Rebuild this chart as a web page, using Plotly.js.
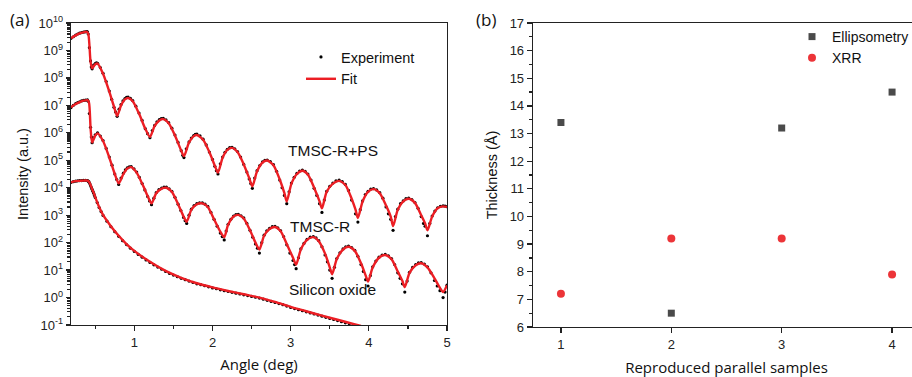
<!DOCTYPE html>
<html>
<head>
<meta charset="utf-8">
<script src="https://cdn.plot.ly/plotly-3.0.1.min.js"></script>
<style>
  html, body { margin: 0; padding: 0; background: #fff; overflow: hidden; }
  #chart { width: 925px; height: 377px; }
</style>
</head>
<body>
<div id="chart"></div>
<script>
// ---------- Panel (a): XRR curves (values stored as log10 of intensity) ----------
// Fit curves (key points)
const angTop = [0.19,0.25,0.30,0.35,0.39,0.41,0.44,0.46,0.50,0.53,0.60,0.68,0.74,0.78,0.83,0.88,0.92,0.98,1.06,1.14,1.20,1.26,1.32,1.37,1.44,1.52,1.60,1.635,1.70,1.76,1.80,1.88,1.96,2.03,2.07,2.13,2.19,2.25,2.32,2.40,2.47,2.51,2.57,2.64,2.70,2.78,2.86,2.92,2.95,3.01,3.08,3.15,3.22,3.30,3.37,3.40,3.46,3.54,3.62,3.70,3.78,3.83,3.86,3.92,3.99,4.06,4.14,4.22,4.28,4.31,4.37,4.44,4.51,4.59,4.67,4.72,4.75,4.81,4.88,4.95,5.00];
const fitTop = [9.45,9.55,9.62,9.66,9.68,9.62,8.6,8.35,8.50,8.52,8.15,7.5,6.95,6.62,7.0,7.22,7.27,7.15,6.7,6.15,5.85,6.25,6.45,6.5,6.35,5.9,5.35,5.15,5.65,5.88,5.92,5.75,5.3,4.8,4.55,5.1,5.38,5.45,5.3,4.85,4.35,4.05,4.6,4.92,4.99,4.82,4.3,3.8,3.5,4.15,4.5,4.62,4.48,4.0,3.5,3.25,3.85,4.15,4.25,4.1,3.6,3.2,2.9,3.5,3.85,3.95,3.8,3.35,2.95,2.6,3.2,3.5,3.6,3.45,3.0,2.7,2.45,2.95,3.25,3.32,3.3];

const angMid = [0.19,0.25,0.30,0.35,0.40,0.42,0.44,0.46,0.50,0.53,0.60,0.68,0.75,0.80,0.86,0.91,0.96,1.03,1.10,1.17,1.22,1.28,1.35,1.41,1.48,1.56,1.63,1.67,1.73,1.80,1.87,1.94,2.02,2.10,2.15,2.20,2.27,2.33,2.40,2.48,2.55,2.60,2.66,2.73,2.80,2.87,2.95,3.03,3.07,3.13,3.21,3.29,3.36,3.44,3.50,3.53,3.59,3.67,3.74,3.82,3.90,3.96,3.99,4.05,4.13,4.21,4.29,4.37,4.43,4.46,4.52,4.60,4.67,4.75,4.84,4.91,4.95,5.00];
const fitMid = [6.93,7.05,7.12,7.17,7.19,7.1,6.2,5.65,5.9,5.98,5.7,5.1,4.5,4.16,4.5,4.7,4.75,4.55,4.15,3.7,3.43,3.8,3.97,4.0,3.85,3.4,2.95,2.76,3.2,3.4,3.43,3.3,2.85,2.4,2.2,2.65,2.95,3.01,2.88,2.45,2.0,1.75,2.25,2.5,2.57,2.42,1.95,1.45,1.2,1.75,2.1,2.2,2.05,1.6,1.1,0.85,1.4,1.75,1.85,1.7,1.25,0.8,0.58,1.1,1.45,1.55,1.4,0.95,0.6,0.38,0.9,1.18,1.25,1.1,0.7,0.35,0.2,0.45];

const angBot = [0.19,0.25,0.30,0.35,0.40,0.42,0.44,0.46,0.48,0.50,0.55,0.60,0.70,0.80,0.90,1.00,1.20,1.40,1.60,1.80,2.00,2.20,2.40,2.60,2.80,3.00,3.20,3.40,3.60,3.80,3.90];
const fitBot = [4.2,4.24,4.25,4.26,4.26,4.22,4.1,3.95,3.82,3.66,3.3,3.01,2.6,2.25,1.95,1.7,1.3,0.97,0.72,0.52,0.37,0.24,0.12,0.0,-0.16,-0.34,-0.5,-0.66,-0.81,-0.96,-1.03];

const expAngTop = [0.19,0.22,0.25,0.275,0.30,0.325,0.35,0.37,0.39,0.40,0.41,0.425,0.44,0.45,0.46,0.48,0.50,0.515,0.53,0.565,0.60,0.64,0.68,0.71,0.74,0.76,0.78,0.805,0.83,0.855,0.88,0.90,0.92,0.95,0.98,1.02,1.06,1.10,1.14,1.17,1.20,1.23,1.26,1.29,1.32,1.345,1.37,1.405,1.44,1.48,1.52,1.56,1.60,1.62,1.635,1.665,1.70,1.73,1.76,1.78,1.80,1.84,1.88,1.92,1.96,2.00,2.03,2.05,2.07,2.10,2.13,2.16,2.19,2.22,2.25,2.285,2.32,2.36,2.40,2.44,2.47,2.49,2.51,2.54,2.57,2.605,2.64,2.67,2.70,2.74,2.78,2.82,2.86,2.89,2.92,2.95,2.98,3.01,3.045,3.08,3.115,3.15,3.185,3.22,3.26,3.30,3.335,3.37,3.40,3.43,3.46,3.50,3.54,3.58,3.62,3.66,3.70,3.74,3.78,3.83,3.86,3.89,3.92,3.955,3.99,4.025,4.06,4.10,4.14,4.18,4.22,4.25,4.28,4.31,4.34,4.37,4.405,4.44,4.475,4.51,4.55,4.59,4.63,4.67,4.70,4.72,4.75,4.78,4.81,4.845,4.88,4.915,4.95,4.975,5.00];
const expTop = [9.44,9.5,9.56,9.6,9.63,9.65,9.67,9.68,9.69,9.68,9.6,9.1,8.62,8.4,8.33,8.47,8.52,8.55,8.53,8.38,8.17,7.87,7.52,7.22,6.93,6.76,6.6,6.86,7.03,7.16,7.25,7.29,7.3,7.26,7.17,6.97,6.72,6.45,6.15,5.97,5.82,6.08,6.27,6.4,6.48,6.52,6.53,6.47,6.37,6.17,5.92,5.65,5.35,5.18,5.1,5.42,5.67,5.81,5.9,5.94,5.95,5.89,5.77,5.56,5.3,5.03,4.78,4.62,4.5,4.87,5.12,5.29,5.4,5.46,5.47,5.42,5.32,5.12,4.85,4.57,4.32,4.15,3.98,4.35,4.62,4.81,4.94,5.0,5.01,4.95,4.84,4.6,4.28,4.0,3.72,3.42,3.85,4.17,4.38,4.52,4.61,4.64,4.6,4.5,4.28,3.98,3.72,3.42,3.1,3.55,3.87,4.05,4.17,4.25,4.28,4.22,4.12,3.9,3.55,3.05,2.75,3.2,3.52,3.75,3.87,3.95,3.97,3.92,3.82,3.62,3.3,3.05,2.85,2.45,2.95,3.22,3.42,3.52,3.6,3.62,3.57,3.46,3.25,2.95,2.7,2.6,2.25,2.7,2.97,3.15,3.27,3.32,3.34,3.33,3.31];

const expAngMid = [0.19,0.22,0.25,0.275,0.30,0.325,0.35,0.375,0.40,0.41,0.425,0.44,0.45,0.46,0.48,0.50,0.53,0.565,0.60,0.64,0.68,0.715,0.75,0.775,0.80,0.83,0.86,0.885,0.91,0.935,0.96,0.995,1.03,1.065,1.10,1.135,1.17,1.195,1.22,1.25,1.28,1.315,1.35,1.38,1.41,1.445,1.48,1.52,1.56,1.595,1.63,1.65,1.67,1.70,1.73,1.765,1.80,1.835,1.87,1.905,1.94,1.98,2.02,2.06,2.10,2.125,2.15,2.175,2.20,2.235,2.27,2.30,2.33,2.365,2.40,2.44,2.48,2.515,2.55,2.575,2.60,2.63,2.66,2.695,2.73,2.765,2.80,2.835,2.87,2.91,2.95,2.99,3.03,3.05,3.07,3.10,3.13,3.17,3.21,3.25,3.29,3.325,3.36,3.40,3.44,3.47,3.50,3.53,3.56,3.59,3.63,3.67,3.705,3.74,3.78,3.82,3.86,3.90,3.93,3.96,3.99,4.02,4.05,4.09,4.13,4.17,4.21,4.25,4.29,4.33,4.37,4.40,4.43,4.46,4.49,4.52,4.56,4.60,4.635,4.67,4.71,4.75,4.795,4.84,4.875,4.91,4.95,4.975,5.00];
const expMid = [6.92,7.0,7.06,7.1,7.13,7.16,7.18,7.19,7.2,7.15,6.7,6.2,5.85,5.64,5.82,5.93,6.0,5.88,5.72,5.43,5.12,4.82,4.5,4.3,4.12,4.35,4.53,4.65,4.72,4.76,4.77,4.69,4.57,4.38,4.15,3.92,3.68,3.52,3.38,3.62,3.82,3.93,3.99,4.02,4.02,3.96,3.87,3.65,3.4,3.17,2.92,2.8,2.7,3.0,3.22,3.35,3.42,3.45,3.45,3.4,3.32,3.1,2.85,2.6,2.35,2.22,2.1,2.42,2.67,2.85,2.97,3.02,3.03,2.98,2.9,2.7,2.45,2.2,1.95,1.8,1.62,2.0,2.27,2.43,2.52,2.58,2.59,2.54,2.44,2.22,1.92,1.62,1.35,1.2,1.05,1.45,1.77,1.97,2.12,2.2,2.22,2.17,2.07,1.85,1.55,1.3,1.0,0.7,1.1,1.42,1.63,1.77,1.85,1.87,1.82,1.72,1.5,1.2,0.95,0.65,0.42,0.8,1.12,1.33,1.47,1.55,1.57,1.52,1.42,1.2,0.9,0.7,0.5,0.2,0.6,0.92,1.1,1.2,1.26,1.27,1.22,1.12,0.9,0.62,0.42,0.25,0.0,0.2,0.45];

const expAngBot = [0.19,0.22,0.25,0.275,0.30,0.325,0.35,0.375,0.40,0.41,0.42,0.43,0.44,0.45,0.46,0.47,0.48,0.49,0.50,0.525,0.55,0.575,0.60,0.65,0.70,0.75,0.80,0.85,0.90,0.95,1.00,1.05,1.10,1.15,1.20,1.25,1.30,1.35,1.40,1.45,1.50,1.55,1.60,1.65,1.70,1.75,1.80,1.85,1.90,1.95,2.00,2.05,2.10,2.15,2.20,2.25,2.30,2.35,2.40,2.45,2.50,2.55,2.60,2.65,2.70,2.75,2.80,2.85,2.90,2.95,3.00,3.05,3.10,3.15,3.20,3.25,3.30,3.35,3.40,3.45,3.50,3.55,3.60,3.65,3.70,3.75,3.80,3.85,3.90];
const expBot = [4.19,4.22,4.24,4.25,4.26,4.26,4.27,4.27,4.26,4.24,4.21,4.15,4.08,4.01,3.94,3.87,3.8,3.72,3.64,3.46,3.28,3.13,2.99,2.78,2.58,2.4,2.23,2.07,1.93,1.8,1.68,1.57,1.47,1.37,1.28,1.19,1.11,1.03,0.95,0.88,0.82,0.76,0.7,0.65,0.6,0.55,0.5,0.47,0.43,0.39,0.35,0.32,0.28,0.25,0.22,0.19,0.16,0.13,0.1,0.07,0.04,0.01,-0.02,-0.06,-0.1,-0.14,-0.18,-0.22,-0.26,-0.31,-0.36,-0.4,-0.44,-0.48,-0.52,-0.56,-0.6,-0.64,-0.68,-0.72,-0.76,-0.8,-0.84,-0.88,-0.92,-0.95,-0.99,-1.02,-1.06];

const yTickExp = [-1,0,1,2,3,4,5,6,7,8,9,10];
const xTicksA = [1,2,3,4,5];

// ---------- Panel (b): thickness ----------
const samples = [1,2,3,4];
const ellipsometry = [13.4,6.5,13.2,14.5];
const xrr = [7.2,9.2,9.2,7.9];

const W = 925, H = 377;
const px = v => v / W;
const py = v => 1 - v / H;
const pow10 = arr => arr.map(v => Math.pow(10, v));

const RED = 'rgb(236,30,36)';
const ARIAL = 'Liberation Sans, Arial, sans-serif';
const tickFont = {family: ARIAL, size: 13, color: '#222'};

function expTrace(x, y, show) {
  return {x: x, y: pow10(y), mode: 'markers', type: 'scatter', name: 'Experiment',
    marker: {color: '#000', size: 3.2}, xaxis: 'x', yaxis: 'y', legend: 'legend',
    showlegend: show, legendgroup: 'exp'};
}
function fitTrace(x, y, show) {
  return {x: x, y: pow10(y), mode: 'lines', type: 'scatter', name: 'Fit',
    line: {color: RED, width: 2.4, shape: 'spline', smoothing: 0.7}, xaxis: 'x', yaxis: 'y',
    legend: 'legend', showlegend: show, legendgroup: 'fit'};
}

const data = [
  expTrace(expAngTop, expTop, true),
  expTrace(expAngMid, expMid, false),
  expTrace(expAngBot, expBot, false),
  fitTrace(angTop, fitTop, true),
  fitTrace(angMid, fitMid, false),
  fitTrace(angBot, fitBot, false),
  {x: samples, y: ellipsometry, mode: 'markers', type: 'scatter', name: 'Ellipsometry',
   marker: {symbol: 'square', color: '#4a4a4a', size: 7}, xaxis: 'x2', yaxis: 'y2', legend: 'legend2'},
  {x: samples, y: xrr, mode: 'markers', type: 'scatter', name: 'XRR',
   marker: {symbol: 'circle', color: 'rgb(236,52,56)', size: 8}, xaxis: 'x2', yaxis: 'y2', legend: 'legend2'}
];

const axLine = {showline: true, linecolor: '#222', linewidth: 1.3, mirror: true, showgrid: false, zeroline: false,
  ticks: 'outside', tickcolor: '#222', tickwidth: 1.2, tickfont: tickFont};

const layout = {
  width: W, height: H,
  margin: {l: 0, r: 0, t: 0, b: 0},
  paper_bgcolor: '#fff', plot_bgcolor: '#fff',
  xaxis: Object.assign({}, axLine, {
    domain: [px(71), px(447)], range: [0.19, 5], tickvals: xTicksA, ticklen: 5,
    minor: {ticks: 'outside', ticklen: 3, dtick: 0.5, tick0: 0, tickcolor: '#222'},
    title: {text: 'Angle (deg)', font: {family: 'Open Sans, sans-serif', size: 15, color: '#111'}, standoff: 10},
    anchor: 'y'
  }),
  yaxis: Object.assign({}, axLine, {
    type: 'log', domain: [py(325), py(23)], range: [-1, 10],
    tickvals: yTickExp.map(e => Math.pow(10, e)),
    ticktext: yTickExp.map(e => '10<sup>' + (e < 0 ? '-' : '') + Math.abs(e) + '</sup>'),
    ticklen: 4,
    minor: {ticks: 'outside', ticklen: 2.5, dtick: 'D1', tickcolor: '#222'},
    title: {text: 'Intensity (a.u.)', font: {family: ARIAL, size: 14.5, color: '#111'}, standoff: 6},
    anchor: 'x'
  }),
  xaxis2: Object.assign({}, axLine, {
    domain: [px(533), px(920)], range: [0.747, 4.253], tickvals: samples, ticklen: 5,
    title: {text: 'Reproduced parallel samples', font: {family: 'Open Sans, sans-serif', size: 15, color: '#111'}, standoff: 12},
    anchor: 'y2'
  }),
  yaxis2: Object.assign({}, axLine, {
    domain: [py(327), py(23)], range: [6, 17], dtick: 1, tick0: 0, ticklen: 5,
    minor: {ticks: 'outside', ticklen: 3, dtick: 0.5, tick0: 0, tickcolor: '#222'},
    title: {text: 'Thickness (Å)', font: {family: ARIAL, size: 14.5, color: '#111'}, standoff: 8},
    anchor: 'x2'
  }),
  legend: {x: px(301), y: py(41), xanchor: 'left', yanchor: 'top', bgcolor: 'rgba(0,0,0,0)',
    font: {family: ARIAL, size: 14.5, color: '#111'}, tracegroupgap: 0, itemwidth: 30},
  legend2: {x: px(792), y: py(21), xanchor: 'left', yanchor: 'top', bgcolor: 'rgba(0,0,0,0)',
    font: {family: ARIAL, size: 14, color: '#111'}, tracegroupgap: 0, itemwidth: 30},
  annotations: [
    {text: '(a)', x: px(8), y: py(20), xref: 'paper', yref: 'paper', xanchor: 'left', yanchor: 'middle', showarrow: false,
     font: {family: 'Open Sans, sans-serif', size: 17, color: '#111'}},
    {text: '(b)', x: px(474), y: py(20), xref: 'paper', yref: 'paper', xanchor: 'left', yanchor: 'middle', showarrow: false,
     font: {family: 'Open Sans, sans-serif', size: 17, color: '#111'}},
    {text: 'TMSC-R+PS', x: px(333), y: py(150), xref: 'paper', yref: 'paper', showarrow: false,
     font: {family: ARIAL, size: 15.5, color: '#111'}},
    {text: 'TMSC-R', x: px(320), y: py(226), xref: 'paper', yref: 'paper', showarrow: false,
     font: {family: ARIAL, size: 15.5, color: '#111'}},
    {text: 'Silicon oxide', x: px(332), y: py(300), xref: 'paper', yref: 'paper', showarrow: false,
     font: {family: ARIAL, size: 15.5, color: '#111'}}
  ]
};

Plotly.newPlot('chart', data, layout, {displayModeBar: false, staticPlot: true});
</script>
</body>
</html>
